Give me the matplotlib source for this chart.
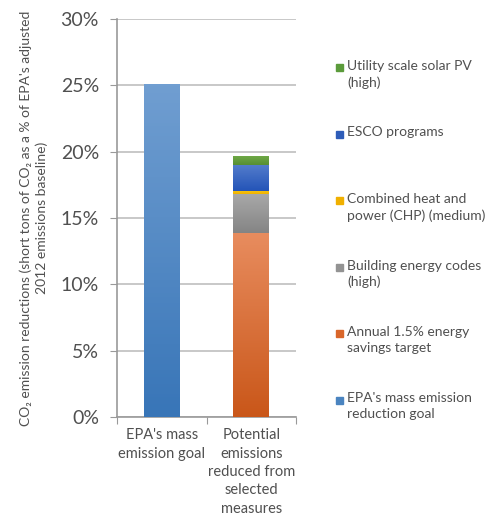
import numpy as np
import matplotlib
matplotlib.use('Agg')
import matplotlib.pyplot as plt
from matplotlib.patches import Rectangle
from matplotlib.colors import LinearSegmentedColormap

# data (percent of adjusted 2012 baseline)
categories = ["EPA's mass\nemission goal", "Potential\nemissions\nreduced from\nselected\nmeasures"]
epa_goal = [25.1, 0]
annual_savings = [0, 13.9]
building_codes = [0, 2.9]
chp = [0, 0.2]
esco = [0, 2.0]
solar = [0, 0.7]

series_names = ["EPA's mass emission\nreduction goal", "Annual 1.5% energy\nsavings target",
                "Building energy codes\n(high)", "Combined heat and\npower (CHP) (medium)",
                "ESCO programs", "Utility scale solar PV\n(high)"]
# (top colour, bottom colour, legend colour)
series_colors = [((0.44, 0.62, 0.82), (0.22, 0.46, 0.72), '#4a84c0'),
                 ((0.91, 0.55, 0.37), (0.79, 0.34, 0.10), '#d9662a'),
                 ((0.66, 0.66, 0.66), (0.52, 0.52, 0.52), '#939393'),
                 ((0.97, 0.76, 0.05), (0.94, 0.70, 0.00), '#f0b000'),
                 ((0.33, 0.49, 0.80), (0.14, 0.33, 0.72), '#2e5cb8'),
                 ((0.44, 0.67, 0.28), (0.34, 0.56, 0.20), '#5b9b3b')]
series = [epa_goal, annual_savings, building_codes, chp, esco, solar]

plt.rcParams['font.family'] = ['Lato', 'DejaVu Sans']
text_col = '#505050'

fig = plt.figure(figsize=(5, 5.26), dpi=100)
ax = fig.add_axes([0.234, 0.2072, 0.358, 0.7567])

x = np.arange(len(categories))
bottom = np.zeros(len(categories))
for vals, (ctop, cbot, _) in zip(series, series_colors):
    bars = ax.bar(x, vals, width=0.4, bottom=bottom, color=cbot, linewidth=0, zorder=2)
    cmap = LinearSegmentedColormap.from_list('g', [cbot, ctop])
    grad = np.linspace(0, 1, 100).reshape(-1, 1)
    for b in bars:
        if b.get_height() <= 0:
            continue
        x0, y0 = b.get_x(), b.get_y()
        im = ax.imshow(grad, cmap=cmap, origin='lower', aspect='auto', zorder=3,
                       extent=[x0, x0 + b.get_width(), y0, y0 + b.get_height()])
        im.set_clip_path(b)
    bottom += np.array(vals)

ax.set_xlim(-0.5, 1.5)
ax.set_ylim(0, 30)
ax.set_yticks(np.arange(0, 31, 5))
ax.set_yticklabels(['%d%%' % v for v in range(0, 31, 5)], fontsize=14, color=text_col)
ax.yaxis.grid(True, color='#bfbfbf', linewidth=1.2, zorder=0)
ax.set_axisbelow(True)

ax.set_xticks([-0.5, 0.5, 1.5])
ax.set_xticklabels([])
ax.set_xticks(x, minor=True)
ax.set_xticklabels(categories, minor=True, fontsize=10.5, color=text_col, va='top',
                   linespacing=1.4)
ax.tick_params(axis='x', which='minor', length=0, pad=8)
ax.tick_params(axis='x', which='major', length=5, color='#999999', direction='out')
ax.tick_params(axis='y', length=5, color='#999999', direction='out', pad=8)

for s in ['top', 'right']:
    ax.spines[s].set_visible(False)
ax.spines['left'].set_color('#999999')
ax.spines['bottom'].set_color('#999999')
ax.spines['left'].set_linewidth(1.2)
ax.spines['bottom'].set_linewidth(1.2)

ax.set_ylabel("CO\u2082 emission reductions (short tons of CO\u2082 as a % of EPA's adjusted\n2012 emissions baseline)",
              fontsize=10, color=text_col, labelpad=9, linespacing=1.3)

# legend drawn by hand, Excel style: equal slots, top entry = top of stack
W, H = 500, 526
for i, (name, (_, _, lc)) in enumerate(zip(series_names[::-1], series_colors[::-1])):
    ytop = 60 + i * 66.5
    fig.patches.append(Rectangle((336 / W, 1 - (ytop + 11) / H), 7 / W, 7 / H,
                                 transform=fig.transFigure, color=lc))
    fig.text(347 / W, 1 - ytop / H, name, fontsize=10, color=text_col, va='top', ha='left',
             linespacing=1.4)

fig.savefig('out.png', dpi=100)
